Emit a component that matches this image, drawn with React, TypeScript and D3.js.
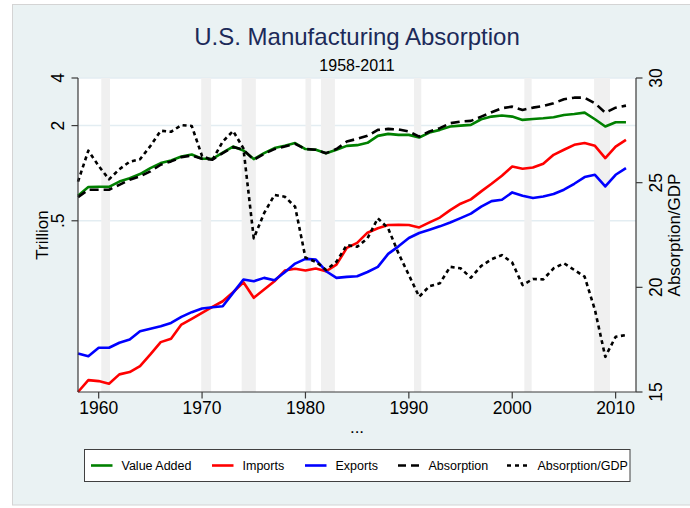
import React from "react";
import * as d3 from "d3";

const years = [
  1958, 1959, 1960, 1961, 1962, 1963, 1964, 1965, 1966, 1967,
  1968, 1969, 1970, 1971, 1972, 1973, 1974, 1975, 1976, 1977,
  1978, 1979, 1980, 1981, 1982, 1983, 1984, 1985, 1986, 1987,
  1988, 1989, 1990, 1991, 1992, 1993, 1994, 1995, 1996, 1997,
  1998, 1999, 2000, 2001, 2002, 2003, 2004, 2005, 2006, 2007,
  2008, 2009, 2010, 2011,
];

const valueAdded = [
  0.72, 0.817, 0.82, 0.82, 0.885, 0.93, 0.987, 1.077, 1.159, 1.203,
  1.275, 1.312, 1.233, 1.233, 1.351, 1.474, 1.391, 1.228, 1.339, 1.441,
  1.489, 1.55, 1.421, 1.407, 1.339, 1.407, 1.489, 1.504, 1.556, 1.722,
  1.773, 1.747, 1.747, 1.681, 1.806, 1.879, 1.972, 2.0, 2.021, 2.194,
  2.28, 2.314, 2.28, 2.173, 2.203, 2.226, 2.259, 2.336, 2.37, 2.416,
  2.194, 1.972, 2.1, 2.1,
];

const imports = [
  0.0413, 0.0491, 0.0484, 0.0466, 0.0534, 0.0552, 0.0602, 0.0714, 0.0854, 0.0897,
  0.1103, 0.1199, 0.1309, 0.1428, 0.1549, 0.1766, 0.2042, 0.1628, 0.1837, 0.2072,
  0.2422, 0.2483, 0.2422, 0.2493, 0.2398, 0.2642, 0.3367, 0.3622, 0.4204, 0.4485,
  0.47, 0.472, 0.47, 0.454, 0.488, 0.524, 0.584, 0.641, 0.683, 0.767,
  0.857, 0.963, 1.102, 1.066, 1.086, 1.147, 1.307, 1.407, 1.511, 1.55,
  1.489, 1.246, 1.474, 1.624,
];

const exports = [
  0.0724, 0.0696, 0.0787, 0.0787, 0.0846, 0.0887, 0.1001, 0.1037, 0.1076, 0.113,
  0.1234, 0.1321, 0.1394, 0.142, 0.1441, 0.175, 0.2124, 0.2072, 0.2177, 0.2103,
  0.2363, 0.2681, 0.2871, 0.2841, 0.2398, 0.2177, 0.2209, 0.2228, 0.237, 0.2554,
  0.3088, 0.3446, 0.3893, 0.4187, 0.439, 0.461, 0.488, 0.52, 0.555, 0.614,
  0.666, 0.679, 0.756, 0.72, 0.696, 0.713, 0.738, 0.786, 0.857, 0.945,
  0.977, 0.824, 0.977, 1.077,
];

const absorption = [
  0.706, 0.786, 0.786, 0.786, 0.844, 0.909, 0.954, 1.026, 1.131, 1.187,
  1.264, 1.294, 1.233, 1.216, 1.339, 1.462, 1.407, 1.216, 1.326, 1.421,
  1.474, 1.534, 1.421, 1.407, 1.339, 1.421, 1.586, 1.649, 1.722, 1.879,
  1.906, 1.89, 1.834, 1.705, 1.834, 1.926, 2.07, 2.12, 2.142, 2.28,
  2.43, 2.575, 2.635, 2.512, 2.597, 2.663, 2.77, 2.934, 3.004, 3.004,
  2.77, 2.416, 2.597, 2.676,
];

const absorptionGDP = [
  25.05, 26.53, 25.8, 25.16, 25.64, 26.0, 26.12, 26.75, 27.48, 27.43,
  27.75, 27.71, 26.27, 26.08, 26.96, 27.47, 26.64, 22.34, 23.54, 24.41,
  24.33, 23.85, 21.42, 21.22, 20.83, 21.22, 22.02, 21.94, 22.34, 23.3,
  22.82, 21.62, 20.59, 19.55, 20.06, 20.19, 20.98, 20.91, 20.46, 21.02,
  21.34, 21.54, 21.18, 20.11, 20.4, 20.38, 20.91, 21.15, 20.83, 20.51,
  18.92, 16.68, 17.64, 17.72,
];

// NBER recessions (start, end) in decimal years
const recessionStart = [1960.25, 1969.92, 1973.83, 1980.0, 1981.5, 1990.5, 2001.17, 2007.92];
const recessionEnd = [1961.1, 1970.87, 1975.2, 1980.55, 1982.85, 1991.2, 2001.88, 2009.45];

const xTicks = [1960, 1970, 1980, 1990, 2000, 2010];
const leftTicks = [4, 2, 0.5];
const leftTickLabels = ["4", "2", ".5"];
const rightTicks = [15, 20, 25, 30];

const seriesNames = ["Value Added", "Imports", "Exports", "Absorption", "Absorption/GDP"];

const FONT = "'Liberation Sans', Arial, Helvetica, sans-serif";

export default function App() {
  const W = 690;
  const H = 508;
  const L = 78, R = 636, T = 78, B = 392;

  const x = d3.scaleLinear().domain([1958, 2012]).range([L, R + 0.3]);
  const leftMin = d3.min([...valueAdded, ...imports, ...exports, ...absorption]) as number;
  const yL = d3.scaleLog().domain([leftMin, 4]).range([B, T]);
  const yR = d3.scaleLinear().domain([15, 30]).range([B, T]);

  const lineL = (vals: number[]) =>
    d3.line<number>().x((_, i) => x(years[i])).y((v) => yL(v))(vals) || "";
  const lineR = (vals: number[]) =>
    d3.line<number>().x((_, i) => x(years[i])).y((v) => yR(v))(vals) || "";

  const styles = [
    { color: "#008000", dash: undefined as string | undefined },
    { color: "#ff0000", dash: undefined },
    { color: "#0000ff", dash: undefined },
    { color: "#000000", dash: "9,5" },
    { color: "#000000", dash: "4,3.5" },
  ];
  const paths = [
    lineL(valueAdded),
    lineL(imports),
    lineL(exports),
    lineL(absorption),
    lineR(absorptionGDP),
  ];

  const legendLineX = [91, 212, 305, 398, 507];
  const legendDash = [undefined, undefined, undefined, "8,5", "4,4"];

  const cx = (L + R) / 2;

  return (
    <svg
      width={W}
      height={H}
      style={{ position: "absolute", left: 0, top: 0, display: "block" }}
      fontFamily={FONT}
    >
      <rect x={0} y={0} width={W} height={H} fill="#ffffff" />
      <rect x={12.5} y={4.5} width={W} height={500.5} fill="#eaf2f3" stroke="#d4d4d4" strokeWidth={1} />
      {/* plot region */}
      <rect x={L} y={T} width={R - L} height={B - T} fill="#ffffff" />
      {/* gridlines */}
      {leftTicks.map((t) => (
        <line key={"g" + t} x1={L} x2={R} y1={yL(t)} y2={yL(t)} stroke="#e3edf2" strokeWidth={1.5} />
      ))}
      {/* recession bands */}
      {recessionStart.map((s, i) => (
        <rect
          key={"r" + i}
          x={x(s)}
          y={T}
          width={x(recessionEnd[i]) - x(s)}
          height={B - T}
          fill="#f0f0f0"
        />
      ))}
      {/* series */}
      {paths.map((d, i) => (
        <path
          key={"p" + i}
          d={d}
          fill="none"
          stroke={styles[i].color}
          strokeWidth={2.6}
          strokeDasharray={styles[i].dash}
          strokeLinejoin="round"
        />
      ))}
      {/* axes */}
      <line x1={L} x2={L} y1={T} y2={B} stroke="#3a3a3a" strokeWidth={1.2} />
      <line x1={R} x2={R} y1={T} y2={B} stroke="#3a3a3a" strokeWidth={1.2} />
      <line x1={L} x2={R} y1={B} y2={B} stroke="#3a3a3a" strokeWidth={1.2} />
      {leftTicks.map((t, i) => (
        <g key={"lt" + t}>
          <line x1={L - 6.5} x2={L} y1={yL(t)} y2={yL(t)} stroke="#3a3a3a" strokeWidth={1.2} />
          <text
            transform={`translate(${64},${yL(t)}) rotate(-90)`}
            textAnchor="middle"
            fontSize={17.5}
            fill="#000"
          >
            {leftTickLabels[i]}
          </text>
        </g>
      ))}
      {rightTicks.map((t) => (
        <g key={"rt" + t}>
          <line x1={R} x2={R + 6.5} y1={yR(t)} y2={yR(t)} stroke="#3a3a3a" strokeWidth={1.2} />
          <text
            transform={`translate(${662},${yR(t)}) rotate(-90)`}
            textAnchor="middle"
            fontSize={17.5}
            fill="#000"
          >
            {t}
          </text>
        </g>
      ))}
      {xTicks.map((t) => (
        <g key={"xt" + t}>
          <line x1={x(t)} x2={x(t)} y1={B} y2={B + 6.5} stroke="#3a3a3a" strokeWidth={1.2} />
          <text x={x(t)} y={414} textAnchor="middle" fontSize={17.5} fill="#000">
            {t}
          </text>
        </g>
      ))}
      {/* axis titles */}
      <text transform={`translate(48,${(T + B) / 2}) rotate(-90)`} textAnchor="middle" fontSize={17} fill="#000">
        Trillion
      </text>
      <text transform={`translate(680,${(T + B) / 2}) rotate(-90)`} textAnchor="middle" fontSize={17} fill="#000">
        Absorption/GDP
      </text>
      <text x={cx} y={433} textAnchor="middle" fontSize={17} fill="#000">
        ...
      </text>
      {/* titles */}
      <text x={cx} y={45} textAnchor="middle" fontSize={24} fill="#1c2a59">
        U.S. Manufacturing Absorption
      </text>
      <text x={cx} y={71} textAnchor="middle" fontSize={16} fill="#000">
        1958-2011
      </text>
      {/* legend */}
      <rect x={84.5} y={449.5} width={545.5} height={32} fill="#ffffff" stroke="#404040" strokeWidth={1} />
      {seriesNames.map((name, i) => (
        <g key={"lg" + i}>
          <line
            x1={legendLineX[i]}
            x2={legendLineX[i] + 21.5}
            y1={465.5}
            y2={465.5}
            stroke={styles[i].color}
            strokeWidth={2.6}
            strokeDasharray={legendDash[i]}
          />
          <text x={legendLineX[i] + 30.5} y={470} fontSize={12.5} fill="#000">
            {name}
          </text>
        </g>
      ))}
    </svg>
  );
}
